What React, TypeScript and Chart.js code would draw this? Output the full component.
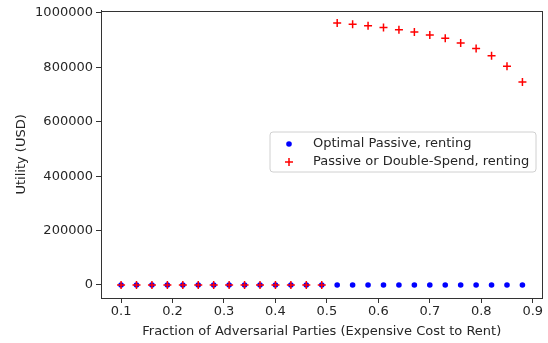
import React, { useEffect, useRef } from "react";
import { Chart, registerables } from "chart.js";

Chart.register(...registerables);

const fractions = [0.1, 0.13, 0.16, 0.19, 0.22, 0.25, 0.28, 0.31, 0.34, 0.37, 0.4, 0.43, 0.46, 0.49, 0.52, 0.55, 0.58, 0.61, 0.64, 0.67, 0.7, 0.73, 0.76, 0.79, 0.82, 0.85, 0.88];
const optimalPassive = [0, 0, 0, 0, 0, 0, 0, 0, 0, 0, 0, 0, 0, 0, 0, 0, 0, 0, 0, 0, 0, 0, 0, 0, 0, 0, 0];
const passiveOrDoubleSpend = [0, 0, 0, 0, 0, 0, 0, 0, 0, 0, 0, 0, 0, 0, 963000, 959000, 953000, 947000, 938000, 930000, 919000, 907000, 890000, 869000, 843000, 804000, 746000];
const xTicks = [0.1, 0.2, 0.3, 0.4, 0.5, 0.6, 0.7, 0.8, 0.9];
const yTicks = [0, 200000, 400000, 600000, 800000, 1000000];
const seriesLabels = ["Optimal Passive, renting", "Passive or Double-Spend, renting"];

const FONT = "'DejaVu Sans', sans-serif";
const TEXT = "#262626";
const LINE = "#333333";

const framePlugin = {
  id: "frame",
  afterDraw(chart: any) {
    const { ctx, chartArea } = chart;
    ctx.save();
    ctx.strokeStyle = LINE;
    ctx.lineWidth = 1;
    ctx.strokeRect(Math.round(chartArea.left) + 0.5, Math.round(chartArea.top) + 0.5, Math.round(chartArea.right - chartArea.left) - 1, Math.round(chartArea.bottom - chartArea.top));
    ctx.restore();
  },
};

const legendPlugin = {
  id: "mplLegend",
  afterDraw(chart: any) {
    const { ctx } = chart;
    const x = 270, y = 132, w = 266, h = 40, r = 3;
    ctx.save();
    ctx.beginPath();
    ctx.moveTo(x + r, y);
    ctx.lineTo(x + w - r, y);
    ctx.quadraticCurveTo(x + w, y, x + w, y + r);
    ctx.lineTo(x + w, y + h - r);
    ctx.quadraticCurveTo(x + w, y + h, x + w - r, y + h);
    ctx.lineTo(x + r, y + h);
    ctx.quadraticCurveTo(x, y + h, x, y + h - r);
    ctx.lineTo(x, y + r);
    ctx.quadraticCurveTo(x, y, x + r, y);
    ctx.closePath();
    ctx.fillStyle = "rgba(255,255,255,0.85)";
    ctx.fill();
    ctx.strokeStyle = "#d0d0d0";
    ctx.lineWidth = 1;
    ctx.stroke();
    ctx.fillStyle = "#0000ff";
    ctx.beginPath();
    ctx.arc(289, 144, 2.8, 0, Math.PI * 2);
    ctx.fill();
    ctx.strokeStyle = "#ff0000";
    ctx.lineWidth = 1.5;
    ctx.beginPath();
    ctx.moveTo(285, 162);
    ctx.lineTo(293, 162);
    ctx.moveTo(289, 158);
    ctx.lineTo(289, 166);
    ctx.stroke();
    ctx.fillStyle = TEXT;
    ctx.font = `13px ${FONT}`;
    ctx.textBaseline = "middle";
    ctx.textAlign = "left";
    ctx.fillText(seriesLabels[0], 313, 144);
    ctx.fillText(seriesLabels[1], 313, 162);
    ctx.restore();
  },
};

export default function App() {
  const ref = useRef<HTMLCanvasElement>(null);
  useEffect(() => {
    document.body.style.margin = "0";
    const chart = new Chart(ref.current!, {
      type: "scatter",
      data: {
        datasets: [
          {
            label: seriesLabels[0],
            data: fractions.map((f, i) => ({ x: f, y: optimalPassive[i] })),
            backgroundColor: "#0000ff",
            borderColor: "#0000ff",
            pointStyle: "circle",
            pointRadius: 2.8,
            borderWidth: 0,
            order: 1,
          },
          {
            label: seriesLabels[1],
            data: fractions.map((f, i) => ({ x: f, y: passiveOrDoubleSpend[i] })),
            backgroundColor: "#ff0000",
            borderColor: "#ff0000",
            pointStyle: "cross",
            pointRadius: 4,
            borderWidth: 1.5,
            order: 0,
          },
        ],
      },
      options: {
        animation: false,
        responsive: false,
        layout: { padding: { top: 10, right: 2, left: 0, bottom: 0 } },
        plugins: { legend: { display: false }, tooltip: { enabled: false } },
        scales: {
          x: {
            type: "linear",
            min: 0.061,
            max: 0.919,
            afterBuildTicks: (s: any) => { s.ticks = xTicks.map((v) => ({ value: v })); },
            afterFit: (s: any) => { s.height = 45; },
            grid: { display: true, drawOnChartArea: false, drawTicks: true, tickLength: 5, color: LINE },
            border: { display: true, color: LINE },
            ticks: { color: TEXT, font: { family: FONT, size: 13 }, padding: 1, maxRotation: 0, autoSkip: false, callback: (v: any) => Number(v).toFixed(1) },
            title: { display: true, text: "Fraction of Adversarial Parties (Expensive Cost to Rent)", color: TEXT, font: { family: FONT, size: 13 }, padding: { top: 2, bottom: 4 } },
          },
          y: {
            type: "linear",
            min: -48000,
            max: 1008000,
            afterBuildTicks: (s: any) => { s.ticks = yTicks.map((v) => ({ value: v })); },
            afterFit: (s: any) => { s.width = 101; },
            grid: { display: true, drawOnChartArea: false, drawTicks: true, tickLength: 5, color: LINE },
            border: { display: true, color: LINE },
            ticks: { color: TEXT, font: { family: FONT, size: 13 }, padding: 3, autoSkip: false, callback: (v: any) => String(v) },
            title: { display: true, text: "Utility (USD)", color: TEXT, font: { family: FONT, size: 13 }, padding: { top: 14, bottom: 0 } },
          },
        },
      },
      plugins: [framePlugin, legendPlugin],
    });
    return () => chart.destroy();
  }, []);
  return (
    <div style={{ width: 548, height: 343 }}>
      <canvas ref={ref} width={548} height={343} style={{ display: "block" }} />
    </div>
  );
}
